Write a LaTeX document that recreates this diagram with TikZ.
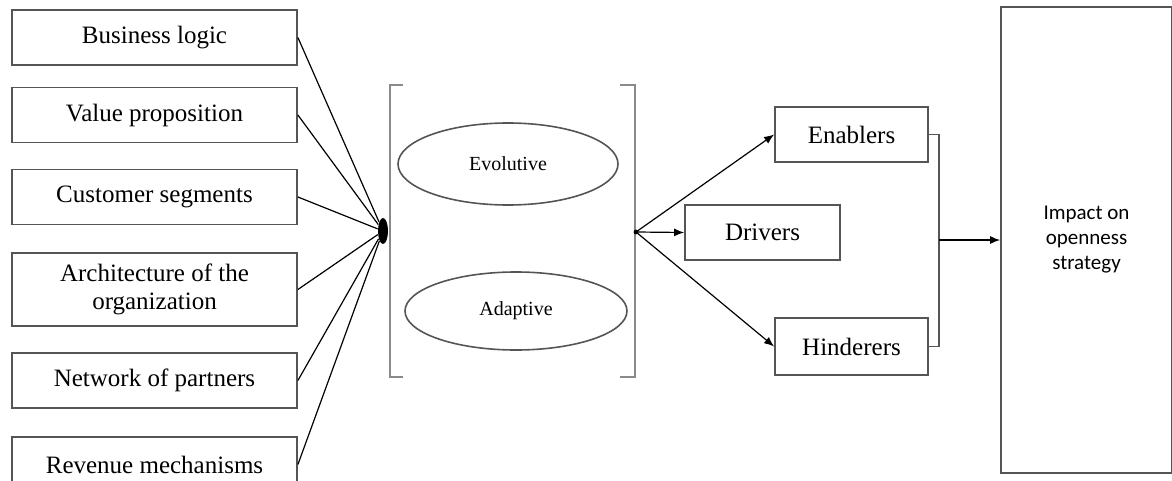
\documentclass[tikz,border=0pt]{standalone}
\usepackage{fontspec}
\setmainfont{Liberation Serif}
\newfontfamily\calibrifont{Carlito}
\usepackage{xcolor}
\usetikzlibrary{arrows.meta,shapes.geometric}
\definecolor{BoxLine}{HTML}{555555}
\definecolor{BracketGray}{HTML}{8A8A8A}

\begin{document}
\begin{tikzpicture}[
  x=0.5pt, y=-0.5pt,
  factor/.style={draw=BoxLine, line width=0.9pt, minimum width=142.5pt, minimum height=27.5pt,
    align=center, inner sep=2pt, font=\fontsize{12.5}{14}\selectfont},
  effect/.style={draw=BoxLine, line width=0.9pt, minimum width=76.5pt, minimum height=27.5pt,
    font=\fontsize{12.5}{14}\selectfont},
  mode/.style={draw=BoxLine, line width=0.8pt, ellipse, inner sep=0pt, font=\fontsize{10}{12}\selectfont},
  link/.style={line width=0.6pt},
  arrow/.style={-{Latex[length=5pt,width=4pt]}, line width=0.6pt},
  bracket/.style={draw=BracketGray, line width=0.9pt}
]
\useasboundingbox (0,0) rectangle (1172,481);

% business model elements
\node[factor] (logic) at (154.5,37.5) {Business logic};
\node[factor] (value) at (154.5,115) {Value proposition};
\node[factor] (segments) at (154.5,197) {Customer segments};
\node[factor, minimum height=36.5pt] (architecture) at (154.5,289.5) {Architecture of the\\organization};
\node[factor] (partners) at (154.5,380.5) {Network of partners};
\node[factor] (revenue) at (154.5,464.5) {Revenue mechanisms};

\node[ellipse, fill=black, inner sep=0pt, minimum width=5pt, minimum height=13pt] (hub) at (383,231) {};
\foreach \src in {logic,value,segments,architecture,partners,revenue}
  \draw[link] (\src.east) -- (hub);

% kinds of change
\draw[bracket] (403,85) -| (390,377) -- (403,377);
\draw[bracket] (620,85) -| (635,377) -- (620,377);
\node[mode, minimum width=110pt, minimum height=41pt] (evolutive) at (508,164) {Evolutive};
\node[mode, minimum width=111pt, minimum height=39pt] (adaptive) at (516,311) {Adaptive};

\coordinate (split) at (636,232);
\fill (split) circle (1.2pt);

% factors
\node[effect] (enablers) at (851.5,134.5) {Enablers};
\node[effect, minimum width=77.5pt] (drivers) at (762.5,232.5) {Drivers};
\node[effect, minimum height=28.5pt] (hinderers) at (851.5,346.5) {Hinderers};

\draw[arrow] (split) -- (enablers.west);
\draw[arrow] (split) -- (drivers.west);
\draw[arrow] (split) -- (hinderers.west);

% outcome
\node[draw=BoxLine, line width=0.9pt, minimum width=85.5pt, minimum height=233pt, align=center,
  font=\calibrifont\fontsize{10.5}{12.5}\selectfont] (impact) at (1086.5,240) {Impact on\\openness\\strategy};

\draw[link, draw=BoxLine] (enablers.east) -- ++(10,0) coordinate (top) |- (hinderers.east);
\coordinate (join) at (top |- impact.west);
\draw[arrow] (join) -- (impact.west);
\end{tikzpicture}
\end{document}
